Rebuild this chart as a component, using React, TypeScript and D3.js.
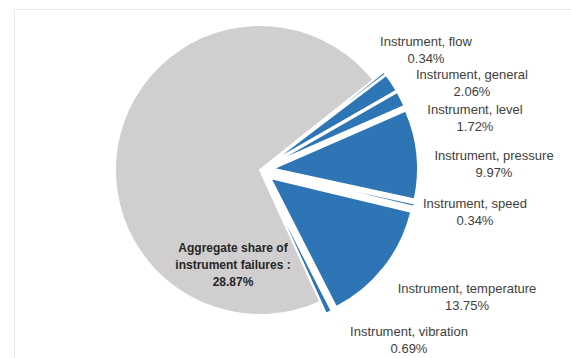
import React from "react";
import * as d3 from "d3";

const categories = [
  "Instrument, flow",
  "Instrument, general",
  "Instrument, level",
  "Instrument, pressure",
  "Instrument, speed",
  "Instrument, temperature",
  "Instrument, vibration",
];
const shares = [0.34, 2.06, 1.72, 9.97, 0.34, 13.75, 0.69];
const valueLabels = ["0.34%", "2.06%", "1.72%", "9.97%", "0.34%", "13.75%", "0.69%"];
const otherShare = 71.13;
const aggregateLines = ["Aggregate share of", "instrument failures :", "28.87%"];

// label centres (layout)
const labelLayout: [number, number][] = [
  [426, 46],
  [472, 79],
  [475, 114],
  [494, 160],
  [475, 208],
  [467, 293],
  [409, 336],
];

const W = 571;
const H = 358;
const cx = 260;
const cy = 170;
const R = 145;
const explode = 13;
const startDeg = 51.5;

export default function App() {
  const items = [
    ...shares.map((v, i) => ({ name: categories[i], value: v, blue: true })),
    { name: "Other", value: otherShare, blue: false },
  ];
  const start = (startDeg * Math.PI) / 180;
  const pie = d3
    .pie<any>()
    .sort(null)
    .value((d) => d.value)
    .startAngle(start)
    .endAngle(start + 2 * Math.PI);
  const arcs = pie(items);
  const arc = d3.arc<any>().innerRadius(0).outerRadius(R);

  return (
    <svg
      width={W}
      height={H}
      style={{ position: "absolute", left: 0, top: 0, background: "#fff" }}
      fontFamily="'Liberation Sans', Arial, sans-serif"
    >
      <rect x={14.5} y={9.5} width={W} height={H} fill="none" stroke="#ebebeb" strokeWidth={1} />
      <g transform={`translate(${cx},${cy})`}>
        {arcs.map((a, i) => {
          const mid = (a.startAngle + a.endAngle) / 2;
          const off = a.data.blue ? explode : 0;
          const dx = Math.sin(mid) * off;
          const dy = -Math.cos(mid) * off;
          return (
            <path
              key={i}
              d={arc(a) as string}
              transform={`translate(${dx},${dy})`}
              fill={a.data.blue ? "#2E75B6" : "#D0CECE"}
              stroke="#ffffff"
              strokeWidth={2}
              strokeLinejoin="miter"
            />
          );
        })}
      </g>
      {categories.map((c, i) => (
        <text key={c} fontSize={13} fill="#404040" textAnchor="middle">
          <tspan x={labelLayout[i][0]} y={labelLayout[i][1]}>
            {c}
          </tspan>
          <tspan x={labelLayout[i][0]} y={labelLayout[i][1] + 16.5}>
            {valueLabels[i]}
          </tspan>
        </text>
      ))}
      <text fontSize={12} fontWeight="bold" fill="#262626" textAnchor="middle">
        {aggregateLines.map((l, i) => (
          <tspan key={i} x={233} y={252 + i * 17}>
            {l}
          </tspan>
        ))}
      </text>
    </svg>
  );
}
